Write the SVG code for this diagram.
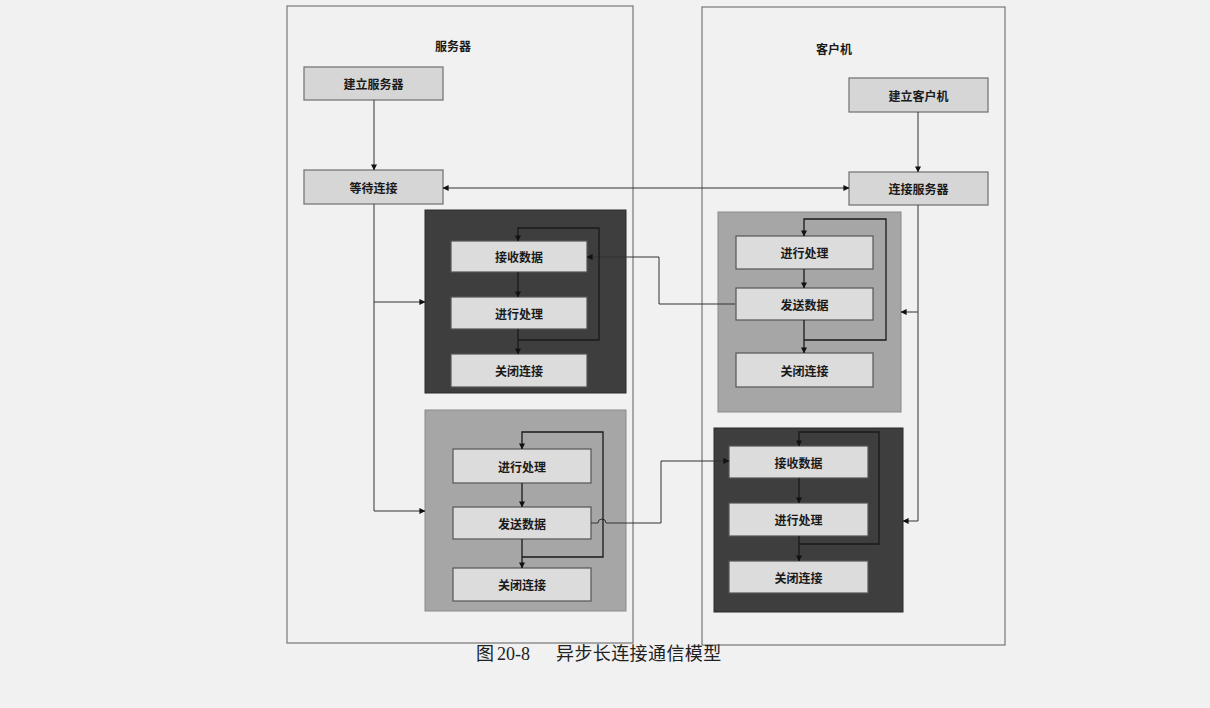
<svg xmlns="http://www.w3.org/2000/svg" width="1210" height="708" viewBox="0 0 1210 708">
<defs>
<marker id="ah" viewBox="0 0 8 8" refX="7.5" refY="4" markerWidth="6" markerHeight="6" orient="auto" markerUnits="userSpaceOnUse">
<path d="M0,0 L8,4 L0,8 z" fill="#111"/>
</marker>
<style>
.col{fill:none;stroke:#777;stroke-width:1.2}
.top{fill:#d6d6d6;stroke:#6e6e6e;stroke-width:1.2}
.in{fill:#dcdcdc;stroke:#555;stroke-width:1.2}
.dark{fill:#3e3e3e;stroke:#2a2a2a;stroke-width:1}
.light{fill:#a6a6a6;stroke:#8a8a8a;stroke-width:1}
.t{font-family:"Noto Sans CJK SC","Noto Sans",sans-serif;font-weight:bold;font-size:12px;fill:#1a1a1a;text-anchor:middle;dominant-baseline:central}
.c{fill:none;stroke:#333;stroke-width:1}
.ci{fill:none;stroke:#1a1a1a;stroke-width:1.3}
.cap{font-family:"Noto Sans CJK SC",sans-serif;font-size:18px;fill:#222}
</style>
</defs>
<rect width="1210" height="708" fill="#f1f1f1"/>

<g id="server-col">
<rect class="col" x="287" y="6" width="346" height="637"/>
<text class="t" x="453" y="45">服务器</text>
</g>
<g id="client-col">
<rect class="col" x="702" y="7" width="303" height="638"/>
<text class="t" x="834" y="48">客户机</text>
</g>

<g id="build-server"><rect class="top" x="304" y="67" width="139" height="33"/><text class="t" x="373.5" y="83.5">建立服务器</text></g>
<g id="wait-conn"><rect class="top" x="304" y="170" width="139" height="34"/><text class="t" x="373.5" y="187">等待连接</text></g>
<g id="build-client"><rect class="top" x="849" y="78" width="139" height="34"/><text class="t" x="918.5" y="95">建立客户机</text></g>
<g id="conn-server"><rect class="top" x="849" y="172" width="139" height="33"/><text class="t" x="918.5" y="188.5">连接服务器</text></g>

<g id="server-recv-block">
<rect class="dark" x="425" y="210" width="201" height="183"/>
<rect class="in" x="451" y="241" width="136" height="31"/><text class="t" x="519" y="256.5">接收数据</text>
<rect class="in" x="451" y="297" width="136" height="32"/><text class="t" x="519" y="313">进行处理</text>
<rect class="in" x="451" y="354" width="136" height="33"/><text class="t" x="519" y="370.5">关闭连接</text>
</g>

<g id="server-send-block">
<rect class="light" x="425" y="410" width="201" height="201"/>
<rect class="in" x="453" y="449" width="138" height="34"/><text class="t" x="522" y="466">进行处理</text>
<rect class="in" x="453" y="507" width="138" height="32"/><text class="t" x="522" y="523">发送数据</text>
<rect class="in" x="453" y="568" width="138" height="33"/><text class="t" x="522" y="584.5">关闭连接</text>
</g>

<g id="client-send-block">
<rect class="light" x="718" y="212" width="183" height="200"/>
<rect class="in" x="736" y="236" width="137" height="33"/><text class="t" x="804.5" y="252.5">进行处理</text>
<rect class="in" x="736" y="288" width="137" height="32"/><text class="t" x="804.5" y="304">发送数据</text>
<rect class="in" x="736" y="353" width="137" height="34"/><text class="t" x="804.5" y="370">关闭连接</text>
</g>

<g id="client-recv-block">
<rect class="dark" x="714" y="428" width="189" height="184"/>
<rect class="in" x="729" y="446" width="139" height="32"/><text class="t" x="798.5" y="462">接收数据</text>
<rect class="in" x="729" y="503" width="139" height="33"/><text class="t" x="798.5" y="519.5">进行处理</text>
<rect class="in" x="729" y="561" width="139" height="32"/><text class="t" x="798.5" y="577">关闭连接</text>
</g>

<g id="connectors">
<path class="c" d="M374,100 V170" marker-end="url(#ah)"/>
<path class="c" d="M918,112 V172" marker-end="url(#ah)"/>
<path class="c" d="M646,188 H443" marker-end="url(#ah)"/>
<path class="c" d="M646,188 H849" marker-end="url(#ah)"/>
<path class="c" d="M374,204 V302 H425" marker-end="url(#ah)"/>
<path class="c" d="M374,302 V511 H425" marker-end="url(#ah)"/>
<path class="c" d="M735,304 H659 V257 H587" marker-end="url(#ah)"/>
<path class="c" d="M591,523 H598 A4,4 0 0 1 606,523 H661 V461 H729" marker-end="url(#ah)"/>
<path class="c" d="M918,205 V521 H903" marker-end="url(#ah)"/>
<path class="c" d="M918,312 H901" marker-end="url(#ah)"/>

<path class="ci" d="M518,272 V297" marker-end="url(#ah)"/>
<path class="ci" d="M518,329 V354" marker-end="url(#ah)"/>
<path class="ci" d="M518,340 H599 V228 H518 V241" marker-end="url(#ah)"/>

<path class="ci" d="M522,483 V507" marker-end="url(#ah)"/>
<path class="ci" d="M522,539 V568" marker-end="url(#ah)"/>
<path class="ci" d="M522,557 H603 V432 H522 V449" marker-end="url(#ah)"/>

<path class="ci" d="M804,269 V288" marker-end="url(#ah)"/>
<path class="ci" d="M804,320 V353" marker-end="url(#ah)"/>
<path class="ci" d="M804,340 H886 V219 H804 V236" marker-end="url(#ah)"/>

<path class="ci" d="M799,478 V503" marker-end="url(#ah)"/>
<path class="ci" d="M799,536 V561" marker-end="url(#ah)"/>
<path class="ci" d="M799,544 H879 V432 H799 V446" marker-end="url(#ah)"/>
</g>

<g id="caption">
<text class="cap" x="476" y="660">图<tspan font-family="'Liberation Serif',serif" x="497">20-8</tspan><tspan x="556" letter-spacing="0.4">异步长连接通信模型</tspan></text>
</g>
</svg>
